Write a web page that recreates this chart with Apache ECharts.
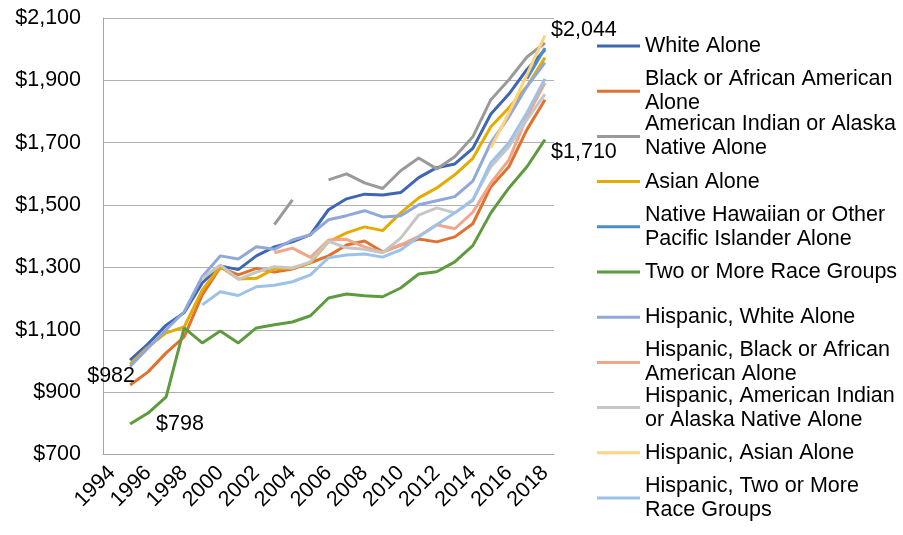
<!DOCTYPE html>
<html>
<head>
<meta charset="utf-8">
<script src="https://cdn.jsdelivr.net/npm/echarts@6/dist/echarts.min.js"></script>
<style>
  html, body { margin: 0; padding: 0; background: #fff; }
  #chart { width: 903px; height: 535px; }
</style>
</head>
<body>
<div id="chart"></div>
<script>
// categories
var years = ['1994', '1995', '1996', '1997', '1998', '1999', '2000', '2001', '2002', '2003',
  '2004', '2005', '2006', '2007', '2008', '2009', '2010', '2011', '2012', '2013',
  '2014', '2015', '2016', '2017', '2018'];

// series values (null = no data)
var whiteAlone = [null, 1003, 1055, 1115, 1155, 1250, 1305, 1293, 1337, 1366, 1382, 1405, 1485, 1520, 1535, 1532, 1540, 1588, 1620, 1632, 1682, 1792, 1856, 1935, 1998];
var blackAlone = [null, 923, 965, 1026, 1077, 1212, 1300, 1276, 1297, 1285, 1295, 1315, 1337, 1372, 1385, 1350, 1372, 1391, 1382, 1398, 1440, 1559, 1623, 1742, 1838];
var amIndAlone = [null, null, null, null, null, null, null, null, null, 1437, 1517, null, 1581, 1600, 1571, 1553, 1610, 1651, 1616, 1655, 1719, 1838, 1902, 1975, 2020];
var asianAlone = [null, 990, 1045, 1090, 1109, 1227, 1303, 1263, 1265, 1295, 1298, 1315, 1382, 1411, 1430, 1418, 1475, 1523, 1555, 1597, 1650, 1751, 1812, 1880, 1973];
var nhpiAlone = [null, null, null, null, null, null, null, null, null, null, null, null, null, null, null, null, null, null, null, null, null, null, null, 1905, 2004];
var twoOrMore = [null, 798, 833, 885, 1106, 1058, 1096, 1058, 1106, 1116, 1125, 1145, 1202, 1215, 1209, 1206, 1234, 1279, 1286, 1318, 1370, 1475, 1555, 1623, 1710];
var hispWhite = [null, 982, 1042, 1100, 1158, 1270, 1337, 1327, 1366, 1358, 1388, 1405, 1453, 1466, 1482, 1462, 1466, 1501, 1514, 1527, 1577, 1700, 1783, 1880, 1957];
var hispBlack = [null, null, null, null, null, null, null, null, null, 1347, 1362, 1332, 1388, 1390, 1366, 1348, 1372, 1400, 1437, 1424, 1477, 1571, 1645, 1783, 1892];
var hispAmInd = [null, null, null, null, null, 1264, 1308, 1262, 1285, 1302, 1298, 1318, 1384, 1363, 1358, 1347, 1394, 1468, 1491, 1475, 1518, 1623, 1687, 1774, 1856];
var hispAsian = [null, null, null, null, null, null, null, null, null, null, null, null, null, null, null, null, null, null, null, null, null, 1684, 1796, 1918, 2044];
var hispTwo = [null, null, null, null, null, 1180, 1222, 1210, 1238, 1243, 1254, 1276, 1331, 1340, 1343, 1333, 1356, 1398, 1437, 1475, 1515, 1636, 1700, 1796, 1905];

var seriesDefs = [
  { name: 'White Alone', label: 'White Alone', data: whiteAlone, color: '#3F66B1' },
  { name: 'Black or African American Alone', label: 'Black or African American\nAlone', data: blackAlone, color: '#E0722F' },
  { name: 'American Indian or Alaska Native Alone', label: 'American Indian or Alaska\nNative Alone', data: amIndAlone, color: '#9A9A9A' },
  { name: 'Asian Alone', label: 'Asian Alone', data: asianAlone, color: '#E5AB00' },
  { name: 'Native Hawaiian or Other Pacific Islander Alone', label: 'Native Hawaiian or Other\nPacific Islander Alone', data: nhpiAlone, color: '#4D8CCA' },
  { name: 'Two or More Race Groups', label: 'Two or More Race Groups', data: twoOrMore, color: '#5E9B3F' },
  { name: 'Hispanic, White Alone', label: 'Hispanic, White Alone', data: hispWhite, color: '#8FA7DB' },
  { name: 'Hispanic, Black or African American Alone', label: 'Hispanic, Black or African\nAmerican Alone', data: hispBlack, color: '#F4A487' },
  { name: 'Hispanic, American Indian or Alaska Native Alone', label: 'Hispanic, American Indian\nor Alaska Native Alone', data: hispAmInd, color: '#C6C6C6' },
  { name: 'Hispanic, Asian Alone', label: 'Hispanic, Asian Alone', data: hispAsian, color: '#FFD27F' },
  { name: 'Hispanic, Two or More Race Groups', label: 'Hispanic, Two or More\nRace Groups', data: hispTwo, color: '#9DC2E8' }
];

// which points carry a value label: [series name, year, position, offset]
var pointLabels = [
  ['Hispanic, White Alone', '1995', 'left', [11, 10]],
  ['Two or More Race Groups', '1995', 'right', [20, 0]],
  ['Hispanic, Asian Alone', '2018', 'right', [0, -5]],
  ['Two or More Race Groups', '2018', 'right', [0, 12]]
];

var FONT = 'Liberation Sans, Arial, sans-serif';
var FS = 21.5;

function money(v) {
  return '$' + String(v).replace(/\B(?=(\d{3})+(?!\d))/g, ',');
}

var series = seriesDefs.map(function (d) {
  var data = d.data.map(function (v, i) {
    var hit = pointLabels.filter(function (p) { return p[0] === d.name && p[1] === years[i]; })[0];
    if (!hit || v == null) return v;
    return {
      value: v,
      symbol: 'circle',
      symbolSize: 0.1,
      label: {
        show: true,
        position: hit[2],
        distance: 6,
        offset: hit[3],
        formatter: function (p) { return money(p.value); },
        fontFamily: FONT,
        fontSize: FS,
        color: '#000'
      }
    };
  });
  return {
    name: d.name,
    type: 'line',
    data: data,
    symbol: 'none',
    connectNulls: false,
    lineStyle: { width: 3, color: d.color },
    itemStyle: { color: d.color },
    emphasis: { disabled: true },
    animation: false
  };
});

// one legend block per series so every entry sits on the same 45px step
var legends = seriesDefs.map(function (d, i) {
  var twoLine = d.label.indexOf('\n') >= 0;
  var center = 46 + 45.2 * i;
  return {
    data: [d.name],
    orient: 'vertical',
    left: 597,
    top: twoLine ? center - 36 : center - 12,
    padding: 0,
    icon: 'rect',
    itemWidth: 43,
    itemHeight: 3,
    selectedMode: false,
    formatter: function () { return d.label; },
    textStyle: {
      fontFamily: FONT,
      fontSize: FS,
      color: '#000',
      lineHeight: 24,
      padding: twoLine ? [24, 0, 0, 0] : 0
    }
  };
});

var myChart = echarts.init(document.getElementById('chart'));
var option = {
  backgroundColor: '#fff',
  animation: false,
  grid: { left: 103, right: 349, top: 18, bottom: 80.5 },
  legend: legends,
  xAxis: {
    type: 'category',
    data: years,
    boundaryGap: true,
    axisLine: { lineStyle: { color: '#A6A6A6', width: 1 } },
    axisTick: { show: false },
    axisLabel: {
      interval: 1,
      rotate: 45,
      margin: 15,
      fontFamily: FONT,
      fontSize: FS,
      color: '#000'
    }
  },
  yAxis: {
    type: 'value',
    min: 700,
    max: 2100,
    interval: 200,
    axisLine: { show: true, lineStyle: { color: '#A6A6A6', width: 1 } },
    axisTick: { show: false },
    splitLine: { lineStyle: { color: '#B0B0B0', width: 1 } },
    axisLabel: {
      margin: 22,
      fontFamily: FONT,
      fontSize: FS,
      color: '#000',
      formatter: function (v) { return money(v); }
    }
  },
  series: series
};
option && myChart.setOption(option);
</script>
</body>
</html>
